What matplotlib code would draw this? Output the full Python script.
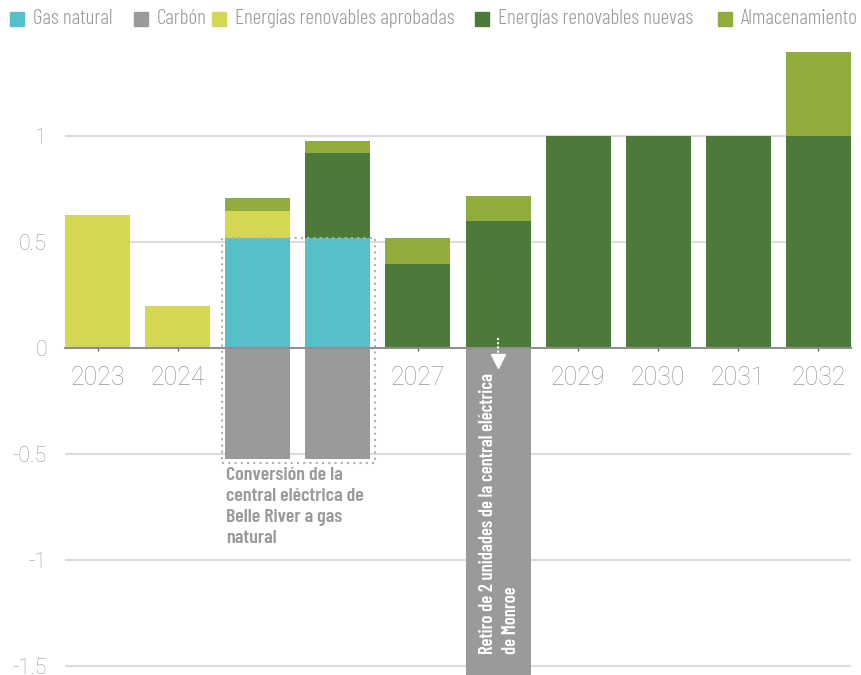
import numpy as np
import matplotlib
matplotlib.use("Agg")
import matplotlib.pyplot as plt
from matplotlib.patches import Rectangle

# data
years = ["2023", "2024", "2025", "2026", "2027", "2028", "2029", "2030", "2031", "2032"]
gas = [0, 0, 0.52, 0.52, 0, 0, 0, 0, 0, 0]
coal = [0, 0, -0.52, -0.52, 0, -1.6, 0, 0, 0, 0]
renew_approved = [0.63, 0.2, 0.13, 0, 0, 0, 0, 0, 0, 0]
renew_new = [0, 0, 0, 0.40, 0.40, 0.60, 1.0, 1.0, 1.0, 1.0]
storage = [0, 0, 0.06, 0.06, 0.12, 0.12, 0, 0, 0, 0.40]
yticks = [-1.5, -1, -0.5, 0, 0.5, 1]
ytick_labels = ["-1.5", "-1", "-0.5", "0", "0.5", "1"]
legend_labels = ["Gas natural", "Carbón", "Energías renovables aprobadas",
                 "Energías renovables nuevas", "Almacenamiento"]
note_belle = "Conversión de la\ncentral eléctrica de\nBelle River a gas\nnatural"
note_monroe = "Retiro de 2 unidades de la central eléctrica\nde Monroe"

c_gas = "#56bfca"
c_coal = "#9a9a9c"
c_appr = "#d4d754"
c_new = "#4b7a3a"
c_stor = "#8fac3d"
colors = [c_gas, c_coal, c_appr, c_new, c_stor]
grey_txt = "#9a9a9a"
narrow = ["Barlow Condensed", "DejaVu Sans"]

W, H = 862, 675
fig = plt.figure(figsize=(W / 100, H / 100), dpi=100)
ax = fig.add_axes([65 / W, 0, 786 / W, 623.3 / H])

x = np.arange(len(years))
w = 0.8125
gas = np.array(gas)
renew_approved = np.array(renew_approved)
renew_new = np.array(renew_new)
ax.bar(x, gas, w, color=c_gas, zorder=1)
ax.bar(x, renew_approved, w, bottom=gas, color=c_appr, zorder=1)
ax.bar(x, renew_new, w, bottom=gas + renew_approved, color=c_new, zorder=1)
ax.bar(x, storage, w, bottom=gas + renew_approved + renew_new, color=c_stor, zorder=1)
ax.bar(x, coal, w, color=c_coal, zorder=1)

ax.set_xlim(-0.40625, 9.40625)
ax.set_ylim(-1.5415, 1.4)
ax.set_axisbelow(True)
ax.yaxis.grid(True, color="#dcdcdc", lw=1.5)

for s in ["top", "right", "left"]:
    ax.spines[s].set_visible(False)
ax.spines["bottom"].set_position(("data", 0))
ax.spines["bottom"].set_color("#8f8f8f")
ax.spines["bottom"].set_linewidth(1.5)
ax.spines["bottom"].set_zorder(3)

ax.set_xticks(x)
ax.set_xticklabels(years)
ax.tick_params(axis="x", length=2, width=1, color="#666666", pad=11,
               labelsize=18, labelcolor=grey_txt)
ax.set_yticks(yticks)
ax.set_yticklabels(ytick_labels)
ax.tick_params(axis="y", length=0, pad=13, labelsize=15.5, labelcolor=grey_txt)
for lab in ax.get_xticklabels() + ax.get_yticklabels():
    lab.set_family("Roboto")
    lab.set_fontweight("light")

# dotted frame round Belle River conversion
ax.add_patch(Rectangle((1.55, -0.542), 1.92, 1.062, fill=False, ec="#b0b0b0",
                       ls=(0, (1, 2)), lw=1.5, zorder=2))
ax.text(1.606, -0.56, note_belle, ha="left", va="top", fontsize=14.3,
        fontweight=600, color=grey_txt, family=narrow, linespacing=1.3, zorder=4)

# Monroe retirement
ax.plot([5, 5], [0.05, -0.035], ls=(0, (1, 1)), color="white", lw=1.5, zorder=4)
ax.plot(5, -0.06, marker="v", ms=10, color="white", zorder=4)
ax.text(5.02, -1.443, note_monroe, rotation=90, ha="center", va="bottom",
        multialignment="left", fontsize=13.3, fontweight=600, color="white",
        family=narrow, linespacing=1.4, zorder=4)

# legend
sq_x = [10, 134, 212, 475, 718]
for lx, lab, col in zip(sq_x, legend_labels, colors):
    fig.patches.append(Rectangle((lx / W, 1 - 26 / H), 14 / W, 14 / H,
                                 transform=fig.transFigure, color=col))
    fig.text((lx + 23) / W, 1 - 19 / H, lab, ha="left", va="center",
             fontsize=15.3, fontweight=300, color=grey_txt, family=narrow)

fig.savefig("out.png", dpi=100)
